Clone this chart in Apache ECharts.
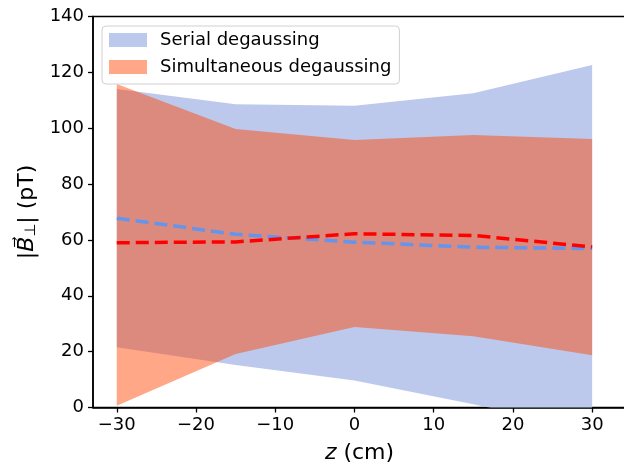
<!DOCTYPE html>
<html>
<head>
<meta charset="utf-8">
<script src="https://cdn.jsdelivr.net/npm/echarts@6/dist/echarts.min.js"></script>
<style>html,body{margin:0;padding:0;background:#fff}#c{width:624px;height:465px}</style>
</head>
<body>
<div id="c"></div>
<script>
const zValues = [-30, -15, 0, 15, 30];
const serialLower = [21.6, 15.2, 9.7, 1.2, -8];
const serialUpper = [114, 108.6, 108, 112.5, 122.6];
const simLower = [0.6, 19.2, 28.8, 25.5, 18.7];
const simUpper = [115.8, 99.7, 95.8, 97.6, 96.1];
const serialMean = [67.8, 62.0, 59.2, 57.4, 56.9];
const simMean = [59.0, 59.3, 62.2, 61.6, 57.5];
const xTicks = [-30, -20, -10, 0, 10, 20, 30];
const seriesNames = ['Serial degaussing', 'Simultaneous degaussing'];

const FONT = 'DejaVu Sans';
const BLUE = '#bdc9ec';
const ORANGE = 'rgba(255,69,0,0.47)';

function pairs(ys) { return zValues.map((z, i) => [z, ys[i]]); }
function triples(lo, up) { return zValues.map((z, i) => [z, lo[i], up[i]]); }

function bandRender(params, api) {
  if (params.dataIndexInside !== 0) return null;
  const n = params.dataInsideLength !== undefined ? params.dataInsideLength : zValues.length;
  const top = [], bot = [];
  for (let j = 0; j < n; j++) {
    top.push(api.coord([api.value(0, j), api.value(2, j)]));
    bot.push(api.coord([api.value(0, j), api.value(1, j)]));
  }
  const pts = top.concat(bot.reverse());
  return {
    type: 'polygon',
    shape: { points: pts },
    style: { fill: api.visual('color'), stroke: null }
  };
}

function band(name, lower, upper, color) {
  return {
    type: 'custom', name: name, data: triples(lower, upper), clip: true, silent: true,
    encode: { x: 0, y: [1, 2] }, itemStyle: { color: color },
    renderItem: bandRender, z: 1
  };
}

const chart = echarts.init(document.getElementById('c'), null, { renderer: 'canvas' });
chart.setOption({
  animation: false,
  backgroundColor: '#fff',
  textStyle: { fontFamily: FONT },
  grid: { left: 93, top: 16.5, width: 533, height: 391, show: true, outerBoundsMode: 'none', containLabel: false,
          borderColor: '#000', borderWidth: 1.5, backgroundColor: 'transparent' },
  xAxis: {
    type: 'value', min: -33, max: -33 + 533 / 7.923,
    axisLine: { onZero: false, lineStyle: { color: '#000', width: 1.5 } },
    axisTick: { show: true, length: 5, lineStyle: { color: '#000', width: 1.3 }, customValues: xTicks },
    axisLabel: { customValues: xTicks, color: '#000', fontSize: 18, margin: 9, fontFamily: FONT,
                 formatter: v => String(v).replace('-', '\u2212') },
    splitLine: { show: false },
    name: '{i|z} (cm)', nameLocation: 'middle', nameGap: 35,
    nameTextStyle: { fontSize: 22, color: '#000', fontFamily: FONT,
      rich: { i: { fontSize: 22, fontStyle: 'italic', fontFamily: FONT, color: '#000' } } }
  },
  yAxis: {
    type: 'value', min: 0, max: 140, interval: 20,
    axisLine: { onZero: false, lineStyle: { color: '#000', width: 1.5 } },
    axisTick: { show: true, length: 5, lineStyle: { color: '#000', width: 1.3 } },
    axisLabel: { color: '#000', fontSize: 18, margin: 9, fontFamily: FONT },
    splitLine: { show: false },
    name: '{t||}{b|B\u20D7}{s|\u22A5}{t|| (pT)}', nameLocation: 'middle', nameGap: 52, nameRotate: 90,
    nameTextStyle: { fontSize: 22, color: '#000', fontFamily: FONT,
      rich: {
        t: { fontSize: 22, color: '#000', fontFamily: FONT },
        b: { fontSize: 22, fontStyle: 'italic', color: '#000', fontFamily: FONT },
        s: { fontSize: 15, color: '#000', fontFamily: FONT, verticalAlign: 'bottom', padding: [8, 0, 0, 0] }
      } }
  },
  legend: {
    orient: 'vertical', left: 102, top: 26,
    padding: [4, 8, 7, 7], itemGap: 7, itemWidth: 38, itemHeight: 14,
    backgroundColor: 'rgba(255,255,255,0.8)', borderColor: '#d0d0d0', borderWidth: 1, borderRadius: 4,
    textStyle: { fontSize: 18, color: '#000', fontFamily: FONT, lineHeight: 20, padding: [0, 0, 0, 8] },
    data: [
      { name: seriesNames[0], icon: 'rect', itemStyle: { color: BLUE, borderWidth: 0 } },
      { name: seriesNames[1], icon: 'rect', itemStyle: { color: ORANGE, borderWidth: 0 } }
    ]
  },
  series: [
    band(seriesNames[0], serialLower, serialUpper, BLUE),
    band(seriesNames[1], simLower, simUpper, ORANGE),
    { type: 'line', name: 'serialMean', data: pairs(serialMean), showSymbol: false, silent: true,
      lineStyle: { color: '#6495ed', width: 3.5, type: [13, 6] }, z: 3 },
    { type: 'line', name: 'simMean', data: pairs(simMean), showSymbol: false, silent: true,
      lineStyle: { color: '#ff0000', width: 3.5, type: [13, 6] }, z: 4 }
  ]
});
</script>
</body>
</html>
